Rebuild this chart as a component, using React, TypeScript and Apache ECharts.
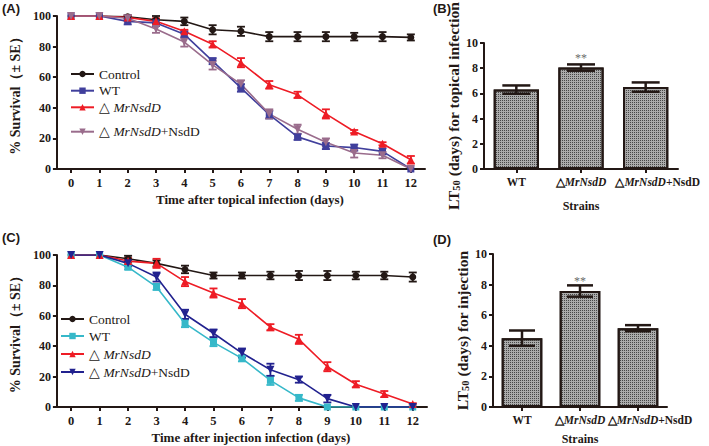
import React, { useEffect, useRef } from "react";
import * as echarts from "echarts";

const days = ["0", "1", "2", "3", "4", "5", "6", "7", "8", "9", "10", "11", "12"];

// Panel A – topical infection (% survival)
const aControl = [100, 100, 99.5, 97.5, 96.5, 91, 90, 86.5, 86.5, 86.5, 86.5, 86.5, 86];
const aControlErr = [0, 0, 1, 2.5, 2.5, 3, 3, 3, 3, 3, 2.5, 3, 2];
const aWT = [100, 100, 96.5, 95.5, 88, 70.5, 53, 35.5, 21, 15, 14, 11.5, 0];
const aWTErr = [0, 0, 2, 2, 2, 2, 2.5, 2.5, 2, 2, 2, 2, 0];
const aDel = [100, 100, 99, 96.5, 90, 81.5, 69.5, 55, 48.5, 36, 24.5, 16.5, 6];
const aDelErr = [0, 0, 1, 2, 1, 2, 3, 2.5, 2, 3, 1, 1, 2.5];
const aComp = [100, 100, 98.5, 91.5, 83, 68, 55.5, 36, 26, 17.5, 10.5, 9, 0];
const aCompErr = [0, 0, 2, 2.5, 3, 3, 2.5, 3, 3, 2.5, 3, 2, 0];

// Panel C – injection infection (% survival)
const cControl = [100, 100, 97.5, 94.5, 90.5, 86.5, 86.5, 86.5, 86.5, 86.5, 86.5, 86.5, 85.5];
const cControlErr = [0, 0, 2, 2, 2.5, 2, 2, 2.5, 3, 3, 2.5, 2.5, 3];
const cWT = [100, 100, 92, 79, 55, 42.5, 32, 17.5, 6, 0, 0, 0, 0];
const cWTErr = [0, 0, 1.5, 2, 2.5, 2.5, 2, 3, 2, 0, 0, 0, 0];
const cDel = [100, 100, 96, 94.5, 82.5, 75, 68, 52.5, 44.5, 26.5, 15, 8.5, 2];
const cDelErr = [0, 0, 2, 3, 3, 3, 3, 2, 3, 3, 2, 2, 0.5];
const cComp = [100, 100, 94.5, 85.5, 61, 48.5, 35.5, 24.5, 18, 5.5, 0, 0, 0];
const cCompErr = [0, 0, 2, 3, 3, 2.5, 3, 4, 2, 2.5, 0, 0, 0];

// Panels B & D – LT50 (days)
const strains = ["WT", "△MrNsdD", "△MrNsdD+NsdD"];
const bLT50 = [6.3, 8.05, 6.5];
const bLT50Err = [0.33, 0.25, 0.37];
const dLT50 = [4.5, 7.58, 5.15];
const dLT50Err = [0.5, 0.37, 0.2];
const sigMarks = ["", "**", ""];

const serif = "'Liberation Serif','Times New Roman',serif";
const sans = "'Liberation Sans',Arial,sans-serif";
const dark = "#231815";

const legendLabels: Record<string, string> = {
  A_Control: "Control",
  A_WT: "WT",
  A_Del: "△ {i|MrNsdD}",
  A_Comp: "△ {i|MrNsdD}+NsdD",
  C_Control: "Control",
  C_WT: "WT",
  C_Del: "△ {i|MrNsdD}",
  C_Comp: "△ {i|MrNsdD}+NsdD",
};

function errData(vals: number[], errs: number[]) {
  const out: number[][] = [];
  vals.forEach((v, i) => {
    if (errs[i] > 0) out.push([i, v - errs[i], v + errs[i]]);
  });
  return out;
}

function errSeries(
  vals: number[],
  errs: number[],
  color: string,
  axis: number,
  capHalf: number,
  lw: number,
  z: number
) {
  return {
    type: "custom",
    xAxisIndex: axis,
    yAxisIndex: axis,
    z,
    silent: true,
    data: errData(vals, errs),
    renderItem: (params: any, api: any) => {
      const x = api.value(0);
      const lo = api.coord([x, api.value(1)]);
      const hi = api.coord([x, api.value(2)]);
      const style = { stroke: color, lineWidth: lw };
      return {
        type: "group",
        children: [
          { type: "line", shape: { x1: lo[0], y1: lo[1], x2: hi[0], y2: hi[1] }, style },
          { type: "line", shape: { x1: hi[0] - capHalf, y1: hi[1], x2: hi[0] + capHalf, y2: hi[1] }, style },
          { type: "line", shape: { x1: lo[0] - capHalf, y1: lo[1], x2: lo[0] + capHalf, y2: lo[1] }, style },
        ],
      };
    },
  };
}

function lineSeries(
  name: string,
  data: number[],
  color: string,
  symbol: string,
  size: number,
  axis: number,
  rotate = 0
) {
  return {
    type: "line",
    name,
    xAxisIndex: axis,
    yAxisIndex: axis,
    data,
    symbol,
    symbolSize: size,
    symbolRotate: rotate,
    z: 4,
    lineStyle: { color, width: 1.6 },
    itemStyle: { color },
  };
}

const axisLineStyle = { show: true, lineStyle: { color: dark, width: 2 } };
const tickStyle = { show: true, length: 4, lineStyle: { color: dark, width: 2 } };
const tickLabel = { color: dark, fontFamily: serif, fontWeight: "bold", fontSize: 12 };

function lineXAxis(grid: number, name: string) {
  return {
    type: "category",
    gridIndex: grid,
    data: days,
    boundaryGap: true,
    axisLine: axisLineStyle,
    axisTick: { ...tickStyle, alignWithLabel: true },
    axisLabel: { ...tickLabel, fontSize: 12.5, margin: 7, interval: 0 },
    name,
    nameLocation: "middle",
    nameGap: 24,
    nameTextStyle: { color: dark, fontFamily: serif, fontWeight: "bold", fontSize: 13, padding: [0, 0, 0, 18] },
  };
}

function lineYAxis(grid: number) {
  return {
    type: "value",
    gridIndex: grid,
    min: 0,
    max: 100,
    interval: 20,
    splitLine: { show: false },
    axisLine: axisLineStyle,
    axisTick: tickStyle,
    axisLabel: { ...tickLabel, margin: 6 },
    name: "% Survival（± SE）",
    nameLocation: "middle",
    nameGap: 28,
    nameTextStyle: { color: dark, fontFamily: serif, fontWeight: "bold", fontSize: 14 },
  };
}

const labelFont = 11.5;
const italicRich = {
  i: { fontStyle: "italic", fontWeight: "bold", fontFamily: serif, fontSize: labelFont, color: dark },
};

function barXAxis(grid: number, nameGap: number) {
  return {
    type: "category",
    gridIndex: grid,
    data: strains.map((s, i) =>
      i === strains.length - 1 ? { value: s, textStyle: { padding: [0, 0, 0, 24] } } : s
    ),
    axisLine: axisLineStyle,
    axisTick: { ...tickStyle, alignWithLabel: true },
    axisLabel: {
      ...tickLabel,
      fontSize: labelFont,
      margin: 7,
      interval: 0,
      hideOverlap: false,
      formatter: (v: string) => v.replace("MrNsdD", "{i|MrNsdD}"),
      rich: italicRich,
    },
    name: "Strains",
    nameLocation: "middle",
    nameGap,
    nameTextStyle: { color: dark, fontFamily: serif, fontWeight: "bold", fontSize: 12 },
  };
}

function barYAxis(grid: number, title: string) {
  return {
    type: "value",
    gridIndex: grid,
    min: 0,
    max: 10,
    interval: 2,
    splitLine: { show: false },
    axisLine: axisLineStyle,
    axisTick: tickStyle,
    axisLabel: { ...tickLabel, margin: 6 },
    name: title,
    nameLocation: "middle",
    nameGap: 19,
    nameTextStyle: {
      color: dark,
      fontFamily: serif,
      fontWeight: "bold",
      fontSize: 15.5,
      rich: {
        sub: { fontSize: 10.5, fontFamily: serif, fontWeight: "bold", color: dark, verticalAlign: "bottom", padding: [7, 0, 0, 0] },
      },
    },
  };
}

function barSeries(data: number[], axis: number) {
  return {
    type: "bar",
    xAxisIndex: axis,
    yAxisIndex: axis,
    data,
    barWidth: "70%",
    z: 2,
    itemStyle: {
      color: "#ababab",
      borderColor: dark,
      borderWidth: 2,
      decal: {
        symbol: "rect",
        symbolSize: 1,
        color: "#474747",
        dashArrayX: [1, 1],
        dashArrayY: [1, 1],
      },
    },
    label: {
      show: true,
      position: "top",
      distance: 4,
      color: "#6b6b6b",
      fontFamily: serif,
      fontSize: 12,
      formatter: (p: any) => sigMarks[p.dataIndex],
    },
  };
}

function legendItem(name: string, left: number, centerY: number) {
  return {
    data: [name],
    left,
    top: centerY - 7,
    orient: "vertical",
    padding: 0,
    itemWidth: 23,
    itemHeight: 8,
    itemGap: 4,
    selectedMode: false,
    formatter: (n: string) => legendLabels[n],
    textStyle: {
      color: dark,
      fontFamily: serif,
      fontSize: 13.5,
      lineHeight: 14,
      rich: { i: { fontStyle: "italic", fontFamily: serif, fontSize: 13.5, color: dark } },
    },
  };
}

const wtA = "#403f9c";
const compA = "#9a6c8c";
const red = "#ee1c25";
const cyan = "#36b8c9";
const navy = "#22228f";

export default function App() {
  const ref = useRef<HTMLDivElement>(null);
  useEffect(() => {
    if (!ref.current) return;
    const chart = echarts.init(ref.current, undefined, { renderer: "svg" });
    chart.setOption({
      animation: false,
      backgroundColor: "#ffffff",
      grid: [
        { left: 42, top: 16, width: 383, height: 153 },
        { left: 484, top: 16, width: 194, height: 153 },
        { left: 42, top: 255, width: 385, height: 152 },
        { left: 493, top: 254, width: 174, height: 153 },
      ],
      xAxis: [
        lineXAxis(0, "Time after topical infection (days)"),
        barXAxis(1, 31),
        lineXAxis(2, "Time after injection infection (days)"),
        barXAxis(3, 26),
      ],
      yAxis: [
        lineYAxis(0),
        barYAxis(1, "LT{sub|50} (days) for topical infection"),
        lineYAxis(2),
        barYAxis(3, "LT{sub|50} (days) for injection"),
      ],
      legend: [
        legendItem("A_Control", 70, 74),
        legendItem("A_WT", 70, 90.7),
        legendItem("A_Del", 70, 107.3),
        legendItem("A_Comp", 70, 131.7),
        legendItem("C_Control", 60, 319),
        legendItem("C_WT", 60, 336),
        legendItem("C_Del", 60, 354),
        legendItem("C_Comp", 60, 372),
      ],
      graphic: [
        { type: "text", left: 2, top: 2, style: { text: "(A)", font: `bold 13px ${sans}`, fill: dark } },
        { type: "text", left: 433, top: 2, style: { text: "(B)", font: `bold 13px ${sans}`, fill: dark } },
        { type: "text", left: 2, top: 231, style: { text: "(C)", font: `bold 13px ${sans}`, fill: dark } },
        { type: "text", left: 433, top: 233, style: { text: "(D)", font: `bold 13px ${sans}`, fill: dark } },
      ],
      series: [
        errSeries(aControl, aControlErr, dark, 0, 4, 1.8, 3),
        errSeries(aWT, aWTErr, wtA, 0, 4, 1.8, 3),
        errSeries(aDel, aDelErr, red, 0, 4, 1.8, 3),
        errSeries(aComp, aCompErr, compA, 0, 4, 1.8, 3),
        lineSeries("A_Control", aControl, dark, "circle", 7, 0),
        lineSeries("A_WT", aWT, wtA, "rect", 7, 0),
        lineSeries("A_Del", aDel, red, "triangle", 8, 0),
        lineSeries("A_Comp", aComp, compA, "triangle", 8, 0, 180),

        errSeries(cControl, cControlErr, dark, 2, 4, 1.8, 3),
        errSeries(cWT, cWTErr, cyan, 2, 4, 1.8, 3),
        errSeries(cDel, cDelErr, red, 2, 4, 1.8, 3),
        errSeries(cComp, cCompErr, navy, 2, 4, 1.8, 3),
        lineSeries("C_Control", cControl, dark, "circle", 7, 2),
        lineSeries("C_WT", cWT, cyan, "rect", 7, 2),
        lineSeries("C_Del", cDel, red, "triangle", 8, 2),
        lineSeries("C_Comp", cComp, navy, "triangle", 8, 2, 180),

        barSeries(bLT50, 1),
        errSeries(bLT50, bLT50Err, dark, 1, 14, 2.5, 5),
        barSeries(dLT50, 3),
        errSeries(dLT50, dLT50Err, dark, 3, 13, 2.5, 5),
      ],
    });
    return () => chart.dispose();
  }, []);
  return (
    <div
      ref={ref}
      style={{ position: "fixed", left: 0, top: 0, width: 709, height: 446, background: "#fff" }}
    />
  );
}
